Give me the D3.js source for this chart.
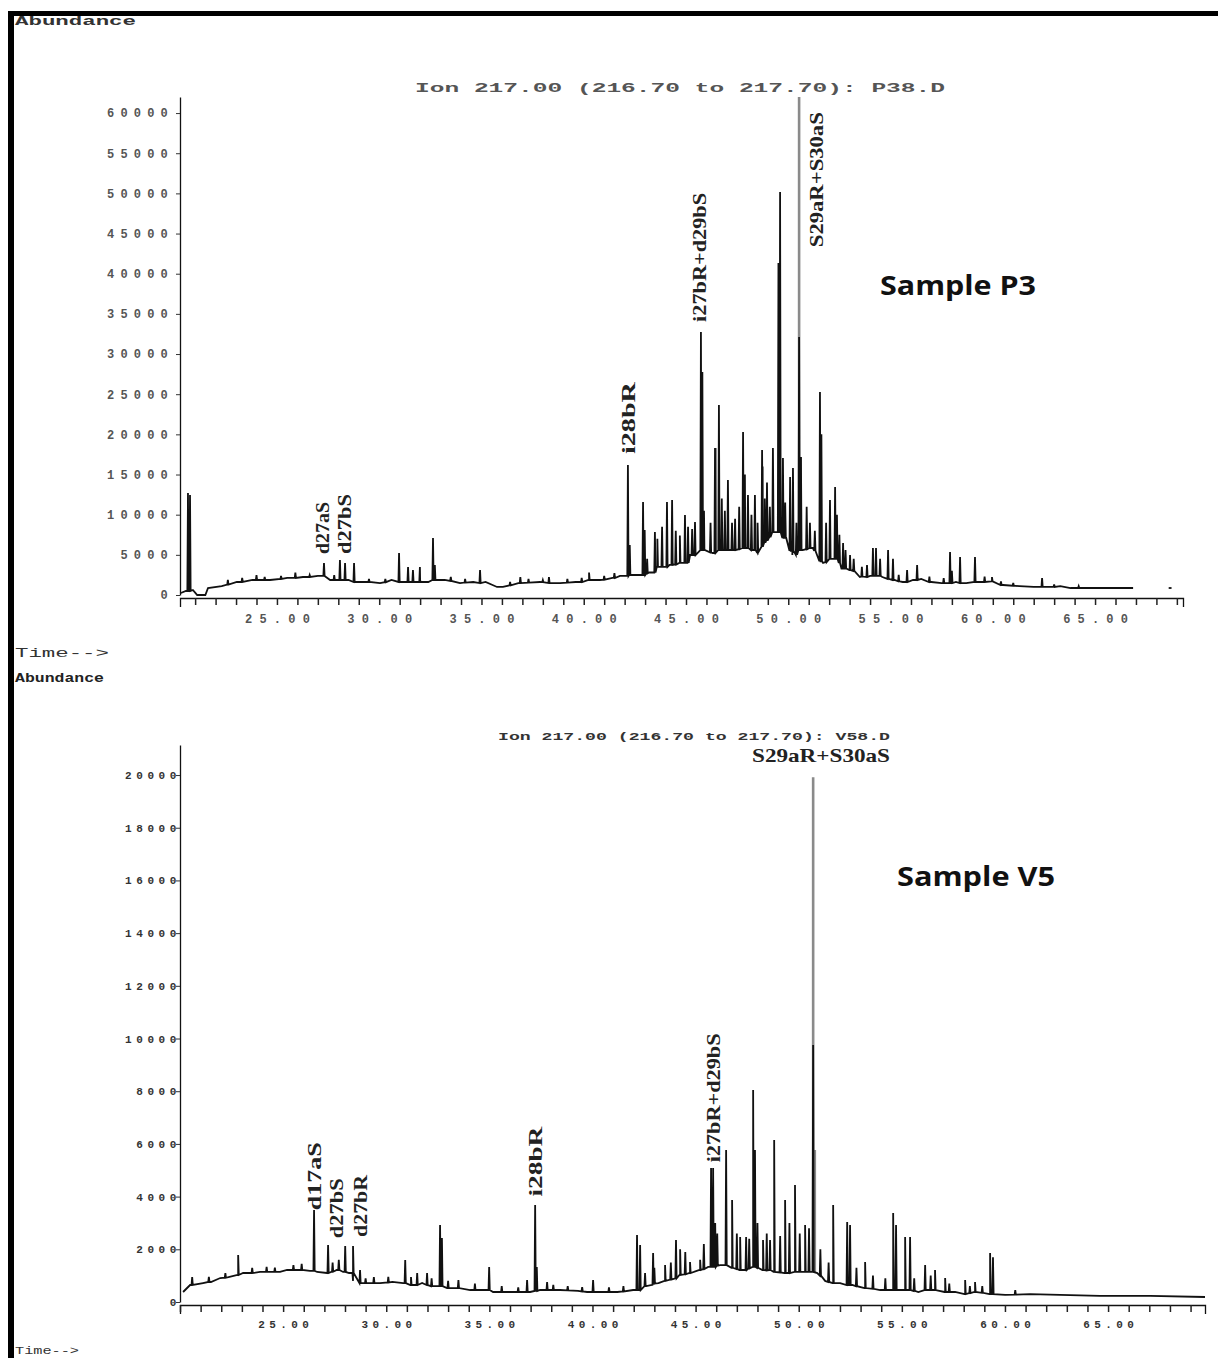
<!DOCTYPE html>
<html><head><meta charset="utf-8">
<script src="https://cdn.jsdelivr.net/npm/d3@7"></script>
<style>body{margin:0;background:#fff}</style>
</head><body>
<svg id="c" width="1218" height="1358"></svg>
<script>
// ---------------- DATA ----------------
const topTitle = "Ion 217.00 (216.70 to 217.70): P38.D";
const bottomTitle = "Ion 217.00 (216.70 to 217.70): V58.D";
const topSample = "Sample P3";
const bottomSample = "Sample V5";

const timeTicks = [25, 30, 35, 40, 45, 50, 55, 60, 65];
const timeTickLabels = ["25.00", "30.00", "35.00", "40.00", "45.00", "50.00", "55.00", "60.00", "65.00"];
const topAbundanceTicks = [0, 5000, 10000, 15000, 20000, 25000, 30000, 35000, 40000, 45000, 50000, 55000, 60000];
const topAbundanceLabels = ["0", "5000", "10000", "15000", "20000", "25000", "30000", "35000", "40000", "45000", "50000", "55000", "60000"];
const bottomAbundanceTicks = [0, 2000, 4000, 6000, 8000, 10000, 12000, 14000, 16000, 18000, 20000];
const bottomAbundanceLabels = ["0", "2000", "4000", "6000", "8000", "10000", "12000", "14000", "16000", "18000", "20000"];

// Sample P3 : baseline [time, abundance]
const topBaseline = [
  [20.30, 250], [20.55, 500], [20.89, 620], [21.00, 300], [21.10, 0], [21.50, 0], [21.63, 870],
  [22.3, 1100], [23.04, 1620], [23.8, 1870], [24.66, 1870], [25.5, 2120], [26.27, 2240], [27.0, 2370],
  [27.6, 1870], [28.5, 1870], [29.2, 1620], [30.04, 1490], [30.6, 1870], [31.2, 1620], [32.0, 1870],
  [32.4, 1620], [33.2, 1870], [33.95, 1490], [34.6, 1620], [35.2, 1620], [35.76, 1000], [36.05, 1000],
  [36.8, 1490], [37.86, 1620], [38.84, 1490], [39.6, 1620], [40.26, 1870], [40.79, 1870], [41.4, 2120],
  [41.77, 2370], [42.4, 2490], [43.2, 2800], [43.6, 3490], [44.2, 3740], [44.7, 4000], [45.2, 4980],
  [45.9, 5600], [46.3, 5230], [46.8, 5600], [47.3, 5600], [47.9, 5850], [48.5, 5230], [49.0, 6850],
  [49.4, 7840], [49.9, 7100], [50.2, 4980], [50.7, 5600], [51.2, 5850], [51.7, 4000], [52.2, 4500],
  [52.6, 3300], [53.0, 3110], [53.5, 2240], [54.0, 2370], [54.6, 2240], [55.2, 1870], [55.6, 1620],
  [56.1, 1870], [56.5, 2000], [57.0, 1620], [57.5, 1490], [58.2, 1620], [58.7, 1490], [59.4, 1620],
  [59.96, 1700], [60.5, 1245], [61.3, 1100], [62.0, 1000], [62.8, 1000], [63.3, 1100], [63.8, 870],
  [65.0, 870], [66.08, 870], [66.86, 870]
];
const topTailDot = [[68.60, 870], [68.74, 870]];
// Sample P3 : peaks [time, base, apex]
const topPeaks = [
  [20.65, 500, 12700], [20.75, 500, 12450], [22.6, 1300, 1870], [23.3, 1620, 2120], [24.0, 1870, 2490],
  [24.4, 1870, 2240], [25.2, 2000, 2370], [25.9, 2120, 2800], [26.6, 2240, 2490],
  [27.30, 2370, 3980], [27.8, 1870, 2490], [28.08, 1870, 4360], [28.33, 1870, 3980], [28.77, 1620, 3980],
  [29.5, 1620, 1990], [30.3, 1600, 1990],
  [30.97, 1620, 5230], [31.41, 1620, 3490], [31.65, 1620, 3110], [31.99, 1620, 3490],
  [32.63, 1870, 7100], [32.72, 1870, 3740], [33.5, 1750, 2240], [34.2, 1550, 1990], [34.93, 1490, 3110],
  [36.4, 1200, 1620], [36.9, 1490, 2240], [37.3, 1550, 1990], [38.0, 1600, 1870], [38.3, 1490, 2240],
  [39.2, 1550, 1990], [39.9, 1620, 2120], [40.26, 1870, 2800], [41.0, 1900, 2370], [41.5, 2120, 2740],
  [42.16, 2370, 16190], [42.25, 2490, 6225], [42.90, 2490, 11580], [42.98, 2490, 8090], [43.1, 2700, 4500],
  [43.48, 2800, 7840], [43.6, 3490, 7000], [43.83, 3490, 8500], [44.07, 3490, 11580], [44.32, 3740, 11830],
  [44.5, 3800, 8000], [44.7, 4000, 7400], [44.95, 4000, 9960],
  [45.10, 4000, 8500], [45.3, 4980, 8200], [45.44, 4980, 9090], [45.73, 5600, 32740], [45.80, 5600, 27760],
  [45.88, 5600, 10500], [46.2, 5300, 9000],
  [46.42, 5230, 18300], [46.61, 5600, 23650], [46.75, 5600, 12000], [46.9, 5600, 10500], [47.05, 5600, 14320],
  [47.25, 5600, 9000], [47.40, 5600, 9500], [47.6, 5700, 11000],
  [47.79, 5850, 20290], [47.88, 5850, 15000], [48.03, 5850, 12450], [48.2, 5600, 10000], [48.37, 5600, 12450],
  [48.5, 5300, 9000], [48.72, 6000, 18050], [48.85, 6500, 12000],
  [48.96, 6850, 14000], [49.1, 7200, 11000], [49.25, 7840, 18300], [49.52, 7840, 41330], [49.60, 7840, 50170],
  [49.74, 7100, 17060], [49.85, 7100, 11500],
  [50.09, 5500, 14690], [50.23, 5500, 15810], [50.4, 5000, 9000], [50.53, 5600, 32120], [50.62, 5600, 17180],
  [50.9, 5700, 11000], [51.06, 5850, 9000], [51.3, 5500, 8000],
  [51.55, 4200, 25270], [51.62, 4200, 20000], [51.85, 4100, 9000], [52.04, 4500, 11830], [52.29, 4500, 13450],
  [52.38, 4500, 10000], [52.5, 4000, 7500],
  [52.68, 3300, 6470], [52.8, 3300, 5600], [53.02, 3110, 4980], [53.2, 3000, 4500], [53.6, 2300, 3500],
  [53.85, 2240, 3740], [54.14, 2370, 5850], [54.29, 2370, 5850],
  [54.49, 2370, 4500], [54.88, 2000, 5600], [55.12, 1870, 4500], [55.4, 1700, 2500], [55.81, 1620, 3110],
  [56.30, 1870, 3740], [56.9, 1620, 2300], [57.6, 1490, 2100],
  [57.91, 1490, 5350], [58.0, 1490, 3000], [58.40, 1490, 4730], [59.13, 1620, 4730], [59.6, 1620, 2300],
  [59.96, 1700, 2240], [60.4, 1250, 1700], [61.0, 1150, 1500], [62.41, 1000, 2120], [63.0, 1000, 1300],
  [64.2, 870, 1100]
];
const topFaintPeaks = [[50.53, 5600, 62000], [46.45, 5230, 18300], [50.60, 5600, 17180], [48.75, 6000, 16000]];

// Sample V5 : baseline [time, abundance]
const bottomBaseline = [
  [20.15, 380], [20.49, 645], [21.12, 720], [21.5, 760], [21.95, 910], [22.4, 950], [22.82, 1025],
  [23.06, 1100], [23.88, 1140], [24.85, 1140], [25.19, 1215], [25.82, 1215], [26.3, 1180], [26.65, 1140],
  [27.13, 1100], [27.6, 1215], [27.91, 1140], [28.2, 1100], [28.39, 800], [28.88, 720], [29.70, 720],
  [30.3, 760], [30.82, 720], [31.2, 645], [31.74, 720], [32.3, 600], [32.95, 530], [34.07, 455],
  [34.89, 455], [35.18, 380], [36.01, 380], [36.98, 380], [37.46, 455], [38.43, 455], [39.3, 420],
  [39.74, 380], [40.22, 380], [41.2, 380], [41.97, 455], [42.6, 600], [43.2, 720], [43.52, 800],
  [44.25, 1025], [44.73, 1100], [45.22, 1215], [45.61, 1330], [46.19, 1400], [46.77, 1300], [47.16, 1215],
  [47.79, 1330], [48.27, 1215], [48.81, 1140], [49.34, 1100], [49.82, 1140], [50.31, 1140], [50.9, 1100],
  [51.28, 800], [51.67, 720], [52.01, 720], [52.6, 645], [53.22, 530], [53.95, 455], [54.58, 455],
  [55.16, 455], [55.8, 380], [56.61, 455], [57.10, 380], [57.58, 380], [58.07, 300], [58.55, 380],
  [59.28, 300], [60.01, 270], [61.22, 300], [62.67, 270], [64.61, 230], [67.04, 230], [69.70, 190]
];
// Sample V5 : peaks [time, base, apex]
const bottomPeaks = [
  [20.59, 645, 950], [21.4, 760, 950], [22.2, 920, 1100], [22.82, 1025, 1780], [23.5, 1100, 1300],
  [24.2, 1140, 1330], [24.6, 1140, 1300], [25.5, 1215, 1400], [25.9, 1215, 1450], [26.50, 1180, 3490],
  [27.18, 1100, 2160], [27.4, 1150, 1500], [27.7, 1215, 1600], [28.01, 1140, 2125], [28.39, 1100, 2125],
  [28.73, 720, 1215], [29.0, 720, 900], [29.4, 720, 950], [30.1, 740, 950], [30.92, 720, 1590],
  [31.2, 645, 950], [31.50, 645, 1100], [31.98, 645, 1100], [32.2, 600, 900], [32.61, 600, 2920],
  [32.70, 600, 2430], [33.0, 530, 800], [33.5, 530, 835], [34.3, 455, 700],
  [34.99, 455, 1330], [35.6, 380, 600], [36.4, 380, 560], [36.83, 380, 835], [37.22, 420, 3680],
  [37.30, 420, 1330], [37.80, 455, 760], [38.1, 455, 650], [38.8, 440, 600], [39.5, 400, 560],
  [40.03, 380, 835], [40.8, 380, 560], [41.5, 400, 600], [42.16, 455, 2540], [42.31, 455, 2160],
  [42.55, 600, 1100], [42.94, 650, 1860], [43.0, 700, 1300], [43.52, 800, 1400], [43.8, 850, 1500],
  [44.05, 900, 2350], [44.25, 1025, 2000], [44.5, 1050, 1900], [44.73, 1100, 1520], [45.22, 1215, 1600],
  [45.4, 1250, 2200], [45.75, 1330, 5085], [45.85, 1330, 5085], [45.95, 1330, 3000], [46.05, 1380, 2600],
  [46.48, 1400, 5770], [46.77, 1300, 3870], [47.0, 1250, 2600],
  [47.16, 1215, 2470], [47.45, 1215, 2470], [47.6, 1280, 2400], [47.79, 1330, 8050], [47.88, 1330, 5770],
  [48.0, 1300, 3000], [48.27, 1215, 2350], [48.45, 1200, 2600],
  [48.61, 1215, 2350], [48.81, 1140, 6150], [49.1, 1120, 2500], [49.34, 1100, 3870], [49.55, 1100, 3000],
  [49.82, 1140, 4440], [50.05, 1140, 2600], [50.31, 1140, 2920], [50.5, 1140, 2800],
  [50.70, 1140, 9750], [51.05, 1000, 2000], [51.45, 760, 1500], [51.67, 720, 3680], [52.35, 645, 3040],
  [52.49, 645, 2920], [52.8, 600, 1300], [53.22, 530, 1520], [53.6, 500, 1000], [54.2, 455, 900],
  [54.58, 455, 3380], [54.72, 455, 2920], [55.16, 455, 2470], [55.40, 455, 2470], [55.6, 420, 900],
  [56.13, 455, 1400], [56.4, 455, 1000],
  [56.61, 455, 1215], [57.10, 380, 910], [57.3, 380, 700], [58.07, 300, 835], [58.3, 340, 600],
  [58.55, 380, 760], [58.9, 350, 600], [59.28, 300, 1860], [59.42, 300, 1700], [60.5, 280, 450]
];
const bottomFaintPeaks = [[50.70, 1140, 19920], [50.78, 1100, 5770]];

// Compound annotations [label, time, abundance at label foot]
const topCompounds = [
  ["d27aS", 27.20, 5100], ["d27bS", 28.30, 5100], ["i28bR", 42.16, 17550],
  ["i27bR+d29bS", 45.65, 34000], ["S29aR+S30aS", 51.35, 43300]
];
const bottomCompounds = [
  ["d17aS", 26.50, 3480], ["d27bS", 27.55, 2420], ["d27bR", 28.75, 2470],
  ["i28bR", 37.20, 4000], ["i27bR+d29bS", 45.85, 5300]
];
const bottomTopLabel = "S29aR+S30aS";

// ---------------- DRAW ----------------
const svg = d3.select("#c");
const mono = "'Liberation Mono', 'DejaVu Sans Mono', monospace";
const serif = "'Liberation Serif', 'DejaVu Serif', serif";

// frame
svg.append("rect").attr("x", 8).attr("y", 11).attr("width", 1210).attr("height", 5).attr("fill", "#000");
svg.append("rect").attr("x", 8).attr("y", 11).attr("width", 6).attr("height", 1347).attr("fill", "#000");
svg.append("text").attr("x", 15).attr("y", 25).attr("font-family", mono).attr("font-size", 12)
  .attr("font-weight", "bold").attr("fill", "#333").attr("textLength", 121).attr("lengthAdjust", "spacingAndGlyphs").text("Abundance");
svg.append("text").attr("x", 15).attr("y", 657).attr("font-family", mono).attr("font-size", 12)
  .attr("fill", "#333").attr("textLength", 94).attr("lengthAdjust", "spacingAndGlyphs").text("Time-->");
svg.append("text").attr("x", 15).attr("y", 682).attr("font-family", mono).attr("font-size", 12)
  .attr("font-weight", "bold").attr("fill", "#222").attr("textLength", 89).attr("lengthAdjust", "spacingAndGlyphs").text("Abundance");
svg.append("text").attr("x", 15).attr("y", 1354).attr("font-family", mono).attr("font-size", 11)
  .attr("fill", "#333").attr("textLength", 64).attr("lengthAdjust", "spacingAndGlyphs").text("Time-->");

function buildTrace(baseline, peaks) {
  const pts = baseline.map(d => [d[0], d[1]]);
  peaks.forEach(p => { pts.push([p[0] - 0.03, p[1]], [p[0], p[2]], [p[0] + 0.03, p[1]]); });
  pts.sort((a, b) => a[0] - b[0]);
  return pts;
}

function drawPanel(cfg) {
  const g = svg.append("g");
  const x = d3.scaleLinear().domain(cfg.xDomain).range([180, cfg.xEnd]);
  const y = d3.scaleLinear().domain([0, cfg.yMax]).range([cfg.yZero, cfg.yTop]);
  const line = d3.line().x(d => x(d[0])).y(d => y(d[1]));

  // y axis
  const ya = g.append("g").attr("transform", "translate(180,0)")
    .call(d3.axisLeft(y).tickValues(cfg.yTicks).tickFormat((d, i) => cfg.yLabels[i]).tickSize(4).tickSizeOuter(0));
  ya.select(".domain").attr("stroke", "#111").attr("stroke-width", 1.3);
  ya.selectAll(".tick line").attr("stroke", "#333");
  ya.selectAll("text").attr("font-family", mono).attr("font-size", cfg.yFont).attr("font-weight", "bold")
    .attr("fill", cfg.textColor).style("letter-spacing", cfg.yLs + "px").attr("x", cfg.yLabelX);

  // x axis
  const minor = d3.range(Math.ceil(cfg.xDomain[0]), Math.floor(cfg.xDomain[1]) + 1);
  const xa = g.append("g").attr("transform", `translate(0,${cfg.axisY})`)
    .call(d3.axisBottom(x).tickValues(minor).tickFormat(d => {
      const i = timeTicks.indexOf(d); return i >= 0 ? timeTickLabels[i] : "";
    }).tickSize(7).tickSizeOuter(9).tickPadding(cfg.xPad));
  xa.select(".domain").attr("stroke", "#111").attr("stroke-width", 1.3);
  xa.selectAll(".tick line").attr("stroke", "#222").attr("stroke-width", 1.5);
  xa.selectAll("text").attr("font-family", mono).attr("font-size", cfg.xFont).attr("font-weight", "bold")
    .attr("fill", cfg.textColor).style("letter-spacing", cfg.xLs + "px").attr("dx", cfg.xLs / 2);

  // title
  g.append("text").attr("x", cfg.titleX).attr("y", cfg.titleY).attr("font-family", mono).attr("font-size", cfg.titleFont)
    .attr("font-weight", "bold").attr("fill", cfg.textColor).attr("textLength", cfg.titleLen)
    .attr("lengthAdjust", "spacingAndGlyphs").text(cfg.title);

  // faint peaks
  g.selectAll(".faint").data(cfg.faint).join("line").attr("class", "faint")
    .attr("x1", d => x(d[0])).attr("x2", d => x(d[0])).attr("y1", d => y(d[1])).attr("y2", d => y(d[2]))
    .attr("stroke", "#8a8a8a").attr("stroke-width", 2.6);

  // trace
  g.append("path").datum(buildTrace(cfg.baseline, cfg.peaks)).attr("d", line)
    .attr("fill", "none").attr("stroke", "#111").attr("stroke-width", 1.8).attr("stroke-linejoin", "miter");
  if (cfg.extra) g.append("path").datum(cfg.extra).attr("d", line).attr("fill", "none").attr("stroke", "#111").attr("stroke-width", 1.8);

  // compound labels (rotated)
  cfg.compounds.forEach(c => {
    g.append("text").attr("transform", `translate(${x(c[1]) + 7},${y(c[2])}) rotate(-90)`)
      .attr("font-family", serif).attr("font-size", 19).attr("font-weight", "bold").attr("fill", "#222")
      .attr("textLength", cfg.labelLen(c[0])).attr("lengthAdjust", "spacingAndGlyphs").text(c[0]);
  });

  // sample label
  g.append("text").attr("x", cfg.sampleX).attr("y", cfg.sampleY).attr("font-family", "'Open Sans', sans-serif")
    .attr("font-size", 26).attr("font-weight", "bold").attr("fill", "#111")
    .attr("textLength", cfg.sampleLen).attr("lengthAdjust", "spacingAndGlyphs").text(cfg.sample);
  return { g, x, y };
}

const labelLenTop = l => ({ "d27aS": 52, "d27bS": 60, "i28bR": 72, "i27bR+d29bS": 129, "S29aR+S30aS": 135 }[l]);
const labelLenBottom = l => ({ "d17aS": 68, "d27bS": 60, "d27bR": 62, "i28bR": 70, "i27bR+d29bS": 129 }[l]);

drawPanel({
  xDomain: [20.26, 69.30], xEnd: 1183, yMax: 62000, yZero: 595, yTop: 97, axisY: 598,
  yTicks: topAbundanceTicks, yLabels: topAbundanceLabels, yFont: 12, yLs: 6.2, yLabelX: -6,
  xFont: 12, xLs: 7.2, xPad: 9, textColor: "#555",
  title: topTitle, titleX: 415, titleY: 92, titleFont: 12, titleLen: 530,
  baseline: topBaseline, peaks: topPeaks, faint: topFaintPeaks, extra: topTailDot,
  compounds: topCompounds, labelLen: labelLenTop,
  sample: topSample, sampleX: 880, sampleY: 295, sampleLen: 156
});

const bot = drawPanel({
  xDomain: [20.0, 69.70], xEnd: 1205, yMax: 21140, yZero: 1302, yTop: 745, axisY: 1305,
  yTicks: bottomAbundanceTicks, yLabels: bottomAbundanceLabels, yFont: 11, yLs: 4.6, yLabelX: 1,
  xFont: 11, xLs: 4.4, xPad: 8, textColor: "#333",
  title: bottomTitle, titleX: 498, titleY: 740, titleFont: 11, titleLen: 392,
  baseline: bottomBaseline, peaks: bottomPeaks, faint: bottomFaintPeaks, extra: null,
  compounds: bottomCompounds, labelLen: labelLenBottom,
  sample: bottomSample, sampleX: 897, sampleY: 886, sampleLen: 158
});
bot.g.append("text").attr("x", 752).attr("y", 762).attr("font-family", serif).attr("font-size", 19)
  .attr("font-weight", "bold").attr("fill", "#222").attr("textLength", 138).attr("lengthAdjust", "spacingAndGlyphs")
  .text(bottomTopLabel);
</script>
</body></html>
